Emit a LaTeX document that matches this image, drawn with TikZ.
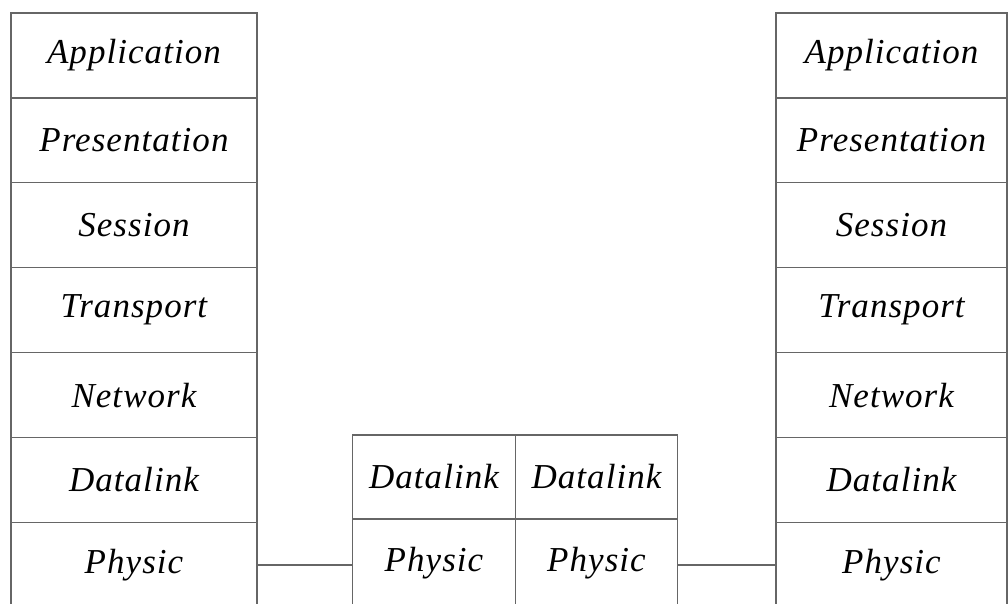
\documentclass[tikz,border=0pt]{standalone}
\usepackage{fontspec}
\setmainfont{Liberation Serif}
\newfontfamily\layerfont[LetterSpace=3]{Liberation Serif}
\usetikzlibrary{positioning}
\tikzset{
  layer/.style={draw=gray!80!black,line width=1.2pt,minimum width=246pt,minimum height=84.9pt,inner sep=0pt,
    font=\layerfont\itshape\fontsize{35}{40}\selectfont},
  rlayer/.style={layer,minimum width=231pt},
  mlayer/.style={layer,minimum width=162.5pt,minimum height=84pt},
  link/.style={draw=gray!80!black,line width=1.2pt}
}
\begin{document}
\begin{tikzpicture}[node distance=84.9pt,on grid]
   \clip (0,0) rectangle (1008pt,-603pt);
   % left stack
   \node[layer] (l_app) at (134pt,-55.5pt) {Application};
   \node[layer] (l_pre) [below=of l_app] {Presentation};
   \node[layer] (l_ses) [below=of l_pre] {Session};
   \node[layer] (l_tra) [below=of l_ses] {Transport};
   \node[layer] (l_net) [below=of l_tra] {Network};
   \node[layer] (l_dat) [below=of l_net] {Datalink};
   \node[layer] (l_phy) [below=of l_dat] {Physic};
   % right stack
   \node[rlayer] (r_app) at (891.5pt,-55.5pt) {Application};
   \node[rlayer] (r_pre) [below=of r_app] {Presentation};
   \node[rlayer] (r_ses) [below=of r_pre] {Session};
   \node[rlayer] (r_tra) [below=of r_ses] {Transport};
   \node[rlayer] (r_net) [below=of r_tra] {Network};
   \node[rlayer] (r_dat) [below=of r_net] {Datalink};
   \node[rlayer] (r_phy) [below=of r_dat] {Physic};
   % relay in the middle
   \node[mlayer] (m_dat1) at (434pt,-477pt) {Datalink};
   \node[mlayer] (m_dat2) [right=162.5pt of m_dat1] {Datalink};
   \node[mlayer,minimum height=88pt] (m_phy1) [below=86pt of m_dat1] {Physic};
   \node[mlayer,minimum height=88pt] (m_phy2) [below=86pt of m_dat2] {Physic};
   \path[link]
    (l_phy.east) -- (l_phy.east -| m_phy1.west)
    (m_phy2.east |- r_phy.west) -- (r_phy.west);
\end{tikzpicture}
\end{document}
